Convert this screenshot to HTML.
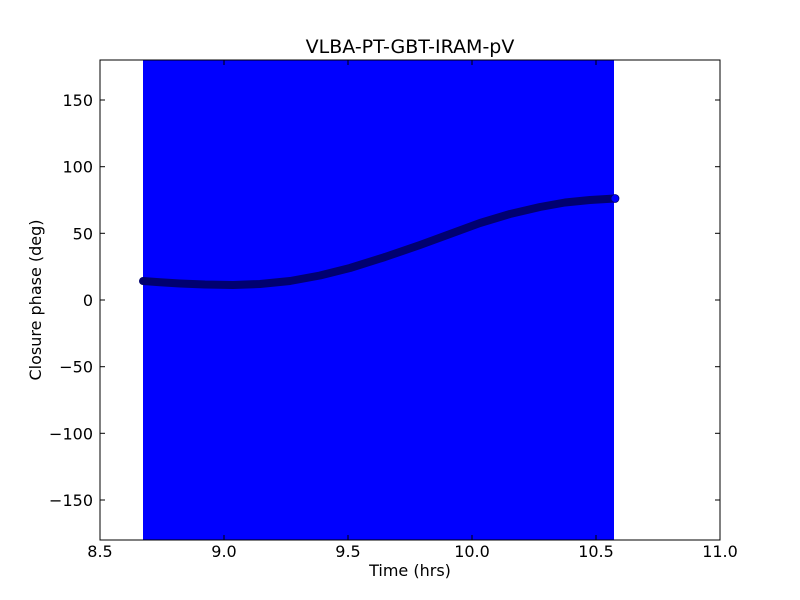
<!DOCTYPE html>
<html><head><style>body{margin:0;background:#fff}svg{display:block}</style></head><body>
<svg width="800" height="600" xmlns="http://www.w3.org/2000/svg" font-family="DejaVu Sans, Liberation Sans, sans-serif">
<rect width="800" height="600" fill="#fff"/>
<rect x="143" y="60" width="471" height="480" fill="#0000ff"/>
<polyline points="143,281 160,282.3 180,283.5 205,284.5 233,285 260,284 290,281 320,275.5 350,268 385,257 420,245 450,234 480,223 510,214 540,207 565,202.5 590,200 615,198.5" fill="none" stroke="#000070" stroke-width="8" stroke-linejoin="round" stroke-linecap="round"/>
<circle cx="615" cy="198.5" r="4" fill="#0000ff" stroke="#000070" stroke-width="0.8"/>
<rect x="100" y="60" width="620" height="480" fill="none" stroke="#000" stroke-width="1"/>
<g stroke="#000" stroke-width="1">
<line x1="224" y1="540" x2="224" y2="535"/><line x1="224" y1="60" x2="224" y2="65"/>
<line x1="348" y1="540" x2="348" y2="535"/><line x1="348" y1="60" x2="348" y2="65"/>
<line x1="472" y1="540" x2="472" y2="535"/><line x1="472" y1="60" x2="472" y2="65"/>
<line x1="596" y1="540" x2="596" y2="535"/><line x1="596" y1="60" x2="596" y2="65"/>
<line x1="100" y1="100" x2="105" y2="100"/><line x1="720" y1="100" x2="715" y2="100"/>
<line x1="100" y1="166.7" x2="105" y2="166.7"/><line x1="720" y1="166.7" x2="715" y2="166.7"/>
<line x1="100" y1="233.3" x2="105" y2="233.3"/><line x1="720" y1="233.3" x2="715" y2="233.3"/>
<line x1="100" y1="300" x2="105" y2="300"/><line x1="720" y1="300" x2="715" y2="300"/>
<line x1="100" y1="366.7" x2="105" y2="366.7"/><line x1="720" y1="366.7" x2="715" y2="366.7"/>
<line x1="100" y1="433.3" x2="105" y2="433.3"/><line x1="720" y1="433.3" x2="715" y2="433.3"/>
<line x1="100" y1="500" x2="105" y2="500"/><line x1="720" y1="500" x2="715" y2="500"/>
</g>
<g font-size="16" fill="#000" text-anchor="middle">
<text x="100" y="557">8.5</text><text x="224" y="557">9.0</text><text x="348" y="557">9.5</text><text x="472" y="557">10.0</text><text x="596" y="557">10.5</text><text x="720" y="557">11.0</text>
<text x="410" y="576">Time (hrs)</text>
<text x="410" y="53" font-size="19">VLBA-PT-GBT-IRAM-pV</text>
</g>
<g font-size="16" fill="#000" text-anchor="end">
<text x="93" y="106">150</text><text x="93" y="172.7">100</text><text x="93" y="239.3">50</text><text x="93" y="306">0</text>
<text x="93" y="372.7">−50</text><text x="93" y="439.3">−100</text><text x="93" y="506">−150</text>
</g>
<text transform="translate(41,300) rotate(-90)" font-size="16" text-anchor="middle">Closure phase (deg)</text>
</svg>
</body></html>
